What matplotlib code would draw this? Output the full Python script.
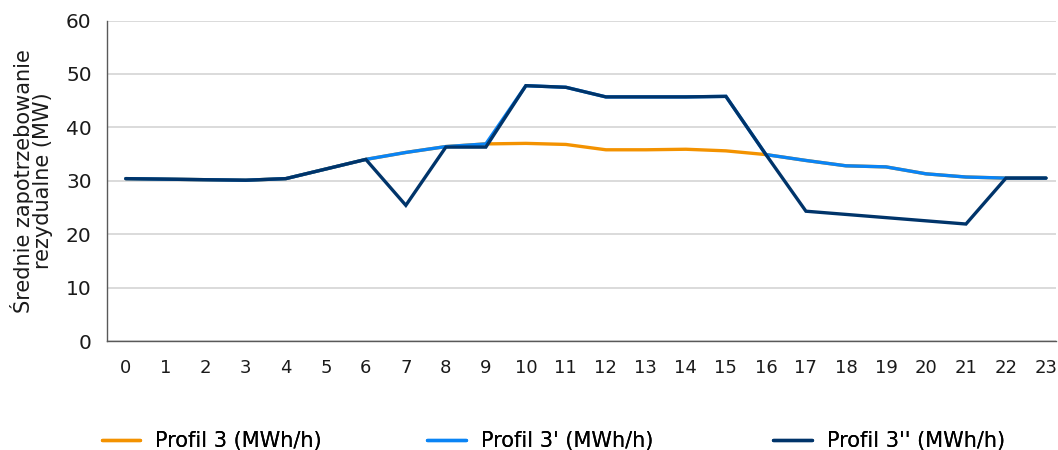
import matplotlib
matplotlib.use("Agg")
import matplotlib.pyplot as plt

# hours 0..23
hours = list(range(24))
profil_3 = [30.4, 30.3, 30.2, 30.1, 30.4, 32.2, 34.0, 35.3, 36.4, 36.9, 37.0, 36.8,
            35.8, 35.8, 35.9, 35.6, 34.9, 33.8, 32.8, 32.6, 31.3, 30.7, 30.5, 30.5]
profil_3p = [30.4, 30.3, 30.2, 30.1, 30.4, 32.2, 34.0, 35.3, 36.4, 36.9, 47.8, 47.5,
             45.7, 45.7, 45.7, 45.8, 34.9, 33.8, 32.8, 32.6, 31.3, 30.7, 30.5, 30.5]
profil_3pp = [30.4, 30.3, 30.2, 30.1, 30.4, 32.2, 34.0, 25.4, 36.3, 36.3, 47.8, 47.5,
              45.7, 45.7, 45.7, 45.8, 34.9, 24.3, 23.7, 23.1, 22.5, 21.9, 30.5, 30.5]
labels = ["Profil 3 (MWh/h)", "Profil 3' (MWh/h)", "Profil 3'' (MWh/h)"]
colors = ["#F39200", "#0A84F5", "#00346A"]

plt.rcParams['font.family'] = ['DejaVu Sans']

fig = plt.figure(figsize=(10.58, 4.5), dpi=100)
ax = fig.add_axes([0.1011, 0.2422, 0.897, 0.7122])

lines = []
for i, series in enumerate([profil_3, profil_3p, profil_3pp]):
    ln, = ax.plot(hours, series, color=colors[i], lw=2.4, label=labels[i],
                  solid_capstyle='round', solid_joinstyle='miter', zorder=3 + i)
    lines.append(ln)

ax.set_ylim(0, 60)
ax.set_yticks(range(0, 61, 10))
ax.set_xlim(-0.47, 23.25)
ax.set_xticks(hours)
ax.grid(axis='y', color='#d4d4d4', lw=1.2)
ax.set_axisbelow(True)

for side in ['top', 'right']:
    ax.spines[side].set_visible(False)
for side in ['left', 'bottom']:
    ax.spines[side].set_color('#595959')
    ax.spines[side].set_linewidth(1.0)

ax.tick_params(axis='x', length=0, pad=13, labelsize=13, colors='#1a1a1a')
ax.tick_params(axis='y', length=0, pad=11, labelsize=14.5, colors='#1a1a1a')

ax.set_ylabel("Średnie zapotrzebowanie\nrezydualne (MW)", fontsize=15,
              color='#1a1a1a', linespacing=0.95, labelpad=9)

# one legend per entry so the entries sit where the reference has them
for ln, x0 in zip(lines, [0.096, 0.404, 0.731]):
    leg = fig.legend(handles=[ln], loc='center left', bbox_to_anchor=(x0, 0.02),
                     frameon=False, fontsize=15, handlelength=1.85,
                     handletextpad=0.7, borderpad=0, borderaxespad=0)
    fig.add_artist(leg)

fig.savefig("out.png", dpi=100)
